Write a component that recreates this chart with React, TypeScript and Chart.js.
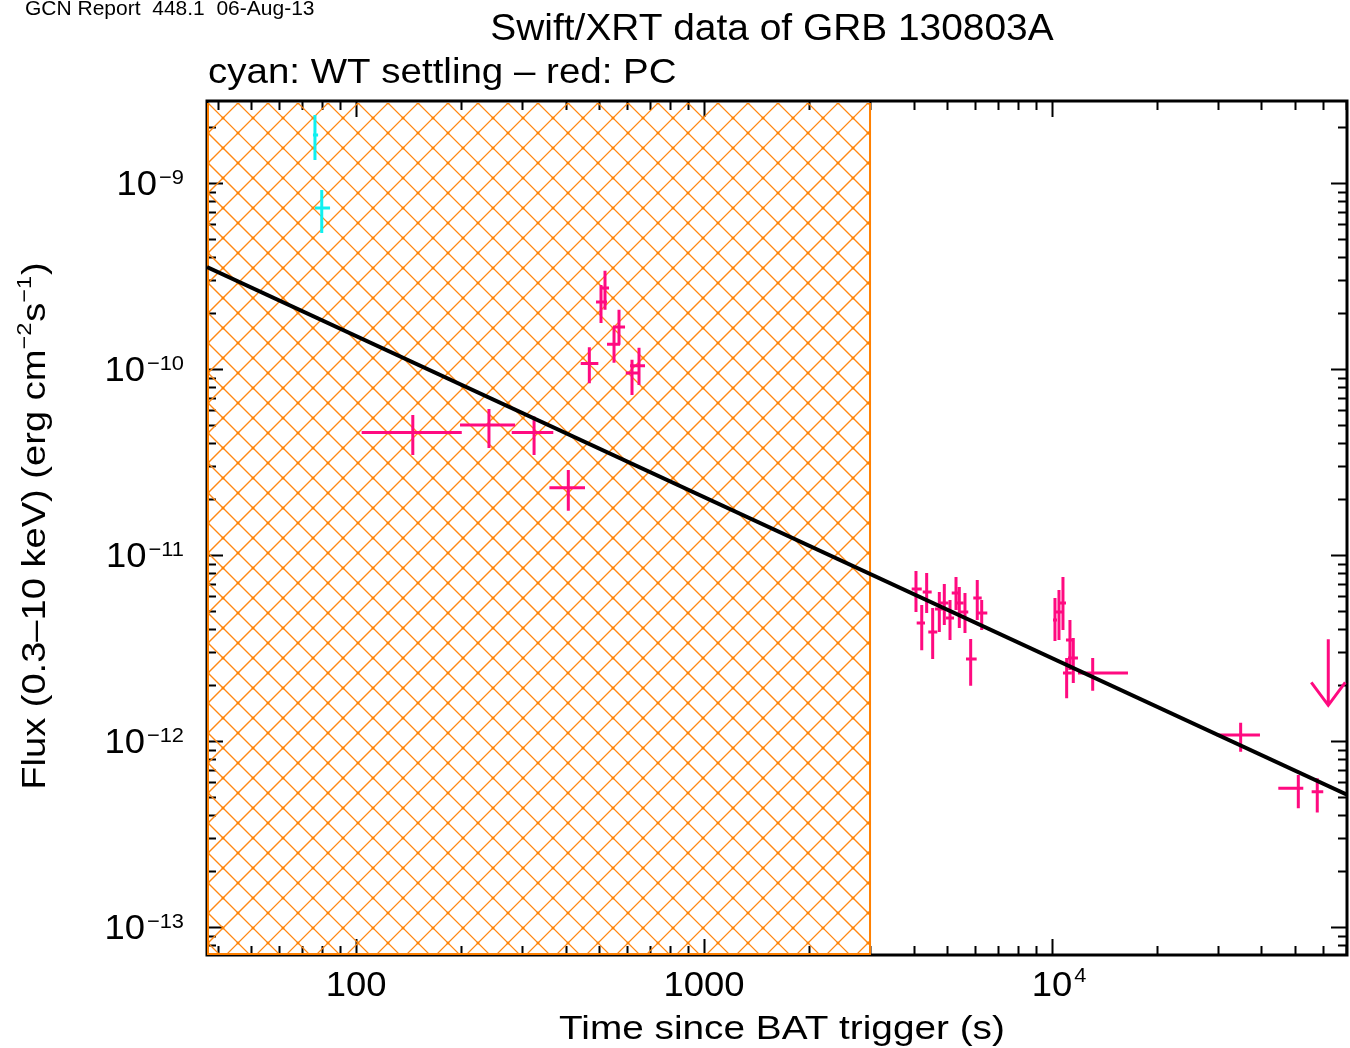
import React, { useEffect, useRef } from 'react';
import { Chart, registerables } from 'chart.js';

Chart.register(...registerables);

// ---------------- data ----------------
// WT settling mode (cyan)
const wtTime = [76.2, 79.7];
const wtTimeLo = [75.2, 76.2];
const wtTimeHi = [77.8, 84.2];
const wtFlux = [1.81e-9, 7.34e-10];
const wtFluxLo = [1.33e-9, 5.38e-10];
const wtFluxHi = [2.32e-9, 9.17e-10];

// PC mode (red)
const pcTime = [145.6, 241, 324.8, 407.4, 468.2, 505.8, 519.4, 551.3, 569.8, 621, 650.5,
  4066, 4224, 4364, 4541, 4745, 4904, 5093, 5299, 5416, 5623, 5839, 6099, 6281,
  10200, 10474, 10754, 11020, 11263, 11514, 13092,
  34850, 51040, 57860];
const pcTimeLo = [103.8, 199, 280.2, 359.5, 442.3, 489.4, 505.8, 526.4, 547.6, 596, 613,
  3952, 4085, 4251, 4411, 4612, 4768, 4960, 5151, 5299, 5466, 5661, 5941, 6140,
  10067, 10268, 10544, 10754, 10970, 11117, 11876,
  29730, 44710, 55750];
const pcTimeHi = [201.3, 286.5, 368.9, 455, 497, 526.4, 533.4, 573.6, 593, 645, 676.9,
  4224, 4316, 4511, 4682, 4872, 5035, 5230, 5441, 5561, 5747, 6075, 6281, 6518,
  10337, 10683, 10970, 11390, 11566, 11876, 16534,
  39600, 52750, 60200];
const pcFlux = [4.55e-11, 5.0e-11, 4.55e-11, 2.3e-11, 1.07e-10, 2.29e-10, 2.73e-10, 1.36e-10, 1.68e-10, 9.52e-11, 1.04e-10,
  6.57e-12, 4.31e-12, 6.33e-12, 3.85e-12, 5.12e-12, 5.52e-12, 4.59e-12, 6.25e-12, 5.52e-12, 4.94e-12, 2.76e-12, 5.87e-12, 4.88e-12,
  4.47e-12, 4.94e-12, 5.52e-12, 2.32e-12, 3.49e-12, 2.79e-12, 2.32e-12,
  1.077e-12, 5.57e-13, 5.34e-13];
const pcFluxLo = [3.45e-11, 3.76e-11, 3.45e-11, 1.73e-11, 8.38e-11, 1.77e-10, 2.08e-10, 1.08e-10, 1.35e-10, 7.25e-11, 8.2e-11,
  4.94e-12, 3.08e-12, 4.88e-12, 2.76e-12, 3.85e-12, 4.2e-12, 3.49e-12, 5.06e-12, 4.05e-12, 3.81e-12, 1.98e-12, 4.47e-12, 3.95e-12,
  3.45e-12, 3.49e-12, 3.95e-12, 1.7e-12, 2.41e-12, 2.05e-12, 1.86e-12,
  8.76e-13, 4.35e-13, 4.12e-13];
const pcFluxHi = [5.66e-11, 6.09e-11, 5.55e-11, 2.86e-11, 1.31e-10, 2.83e-10, 3.37e-10, 1.68e-10, 2.08e-10, 1.12e-10, 1.3e-10,
  8.2e-12, 5.38e-12, 8.0e-12, 5.19e-12, 6.33e-12, 6.99e-12, 5.73e-12, 7.62e-12, 6.73e-12, 6.25e-12, 3.54e-12, 7.34e-12, 5.73e-12,
  5.87e-12, 6.48e-12, 7.62e-12, 2.79e-12, 4.47e-12, 3.58e-12, 2.79e-12,
  1.254e-12, 6.57e-13, 6.3e-13];

// PC upper limit
const ulTime = [62230];
const ulFlux = [3.52e-12];

// power-law fit
const fitTime = [37.3, 70440];
const fitFlux = [3.53e-10, 5.15e-13];

// settling (hatched) interval
const shadeStart = 37.3;
const shadeEnd = 3000;

// axis ranges
const xMin = 37.3;
const xMax = 70440;
const yMin = 7.07e-14;
const yMax = 2.76e-9;

// tick labels
const xTickValues = [100, 1000, 10000];
const xTickBases = ['100', '1000', '10'];
const xTickExps = ['', '', '4'];
const yTickValues = [1e-9, 1e-10, 1e-11, 1e-12, 1e-13];
const yTickBases = ['10', '10', '10', '10', '10'];
const yTickExps = ['\u22129', '\u221210', '\u221211', '\u221212', '\u221213'];

// texts
const reportText = 'GCN Report  448.1  06-Aug-13';
const titleText = 'Swift/XRT data of GRB 130803A';
const subtitleText = 'cyan: WT settling \u2013 red: PC';
const xTitleText = 'Time since BAT trigger (s)';
const yTitleParts: [string, boolean][] = [
  ['Flux (0.3\u201310 keV) (erg cm', false],
  ['\u22122', true],
  ['s', false],
  ['\u22121', true],
  [')', false],
];

// ---------------- styles ----------------
const FONT = "'Liberation Sans', Arial, Helvetica, sans-serif";
const PINK = '#ff0a80';
const CYAN = '#10f0f0';
const ORANGE = 'rgb(255,136,20)';

const mkPoints = (t: number[], tl: number[], th: number[], f: number[], fl: number[], fh: number[]) =>
  t.map((x, i) => ({ x, y: f[i], xMin: tl[i], xMax: th[i], yMin: fl[i], yMax: fh[i] }));

function drawText(ctx: CanvasRenderingContext2D, text: string, x: number, y: number, size: number, align: string, sx: number) {
  ctx.save();
  ctx.font = `${size}px ${FONT}`;
  ctx.textAlign = 'left';
  const w = ctx.measureText(text).width * sx;
  const x0 = align === 'center' ? x - w / 2 : align === 'right' ? x - w : x;
  ctx.translate(x0, y);
  ctx.scale(sx, 1);
  ctx.fillText(text, 0, 0);
  ctx.restore();
  return w;
}

function textWidth(ctx: CanvasRenderingContext2D, text: string, size: number, sx: number) {
  ctx.font = `${size}px ${FONT}`;
  return ctx.measureText(text).width * sx;
}

const framePlugin = {
  id: 'frameHatchErrors',
  beforeDatasetsDraw(chart: any) {
    const { ctx, chartArea: ca, scales } = chart;
    const xs = scales.x, ys = scales.y;
    ctx.save();
    // frame
    ctx.strokeStyle = '#000';
    ctx.lineWidth = 3;
    ctx.strokeRect(ca.left, ca.top, ca.right - ca.left, ca.bottom - ca.top);
    // ticks
    ctx.lineWidth = 2;
    ctx.beginPath();
    for (let d = 1; d <= 5; d++) {
      for (let m = 1; m <= 9; m++) {
        const v = m * Math.pow(10, d);
        if (v < xMin || v > xMax) continue;
        const px = Math.round(xs.getPixelForValue(v)) + 0.5;
        const len = m === 1 ? 16 : 9;
        ctx.moveTo(px, ca.bottom); ctx.lineTo(px, ca.bottom - len);
        ctx.moveTo(px, ca.top); ctx.lineTo(px, ca.top + len);
      }
    }
    for (let d = -14; d <= -8; d++) {
      for (let m = 1; m <= 9; m++) {
        const v = m * Math.pow(10, d);
        if (v < yMin || v > yMax) continue;
        const py = Math.round(ys.getPixelForValue(v)) + 0.5;
        const len = m === 1 ? 16 : 9;
        ctx.moveTo(ca.left, py); ctx.lineTo(ca.left + len, py);
        ctx.moveTo(ca.right, py); ctx.lineTo(ca.right - len, py);
      }
    }
    ctx.stroke();

    // hatched region
    const hx0 = xs.getPixelForValue(shadeStart);
    const hx1 = xs.getPixelForValue(shadeEnd);
    const top = ca.top + 2, bot = ca.bottom;
    ctx.save();
    ctx.beginPath();
    ctx.rect(hx0, top, hx1 - hx0, bot - top);
    ctx.clip();
    ctx.strokeStyle = ORANGE;
    ctx.lineWidth = 1.25;
    ctx.beginPath();
    const sp = 30;
    for (let c = -60 + 11; c < 1400 + 1000; c += sp) {
      ctx.moveTo(c - top + 2, top - 2); ctx.lineTo(c - bot - 2, bot + 2);
    }
    for (let c = -1100 + 5; c < 1400; c += sp) {
      ctx.moveTo(c + top - 2, top - 2); ctx.lineTo(c + bot + 2, bot + 2);
    }
    ctx.stroke();
    ctx.fillStyle = 'rgb(255,128,0)';
    for (let c1 = 11; c1 < 2400; c1 += sp) {
      for (let c2 = -1095; c2 < 1400; c2 += sp) {
        const x = (c1 + c2) / 2, y = (c1 - c2) / 2;
        if (x < hx0 || x > hx1 || y < top || y > bot) continue;
        ctx.fillRect(x - 1.3, y - 1.3, 2.6, 2.6);
      }
    }
    ctx.restore();
    // region outline
    ctx.strokeStyle = 'rgb(255,128,0)';
    ctx.lineWidth = 2;
    ctx.beginPath();
    ctx.moveTo(hx0 + 1, top); ctx.lineTo(hx0 + 1, bot - 1);
    ctx.lineTo(hx1, bot - 1); ctx.lineTo(hx1, top);
    ctx.stroke();

    // error bars
    ctx.beginPath();
    ctx.rect(ca.left, ca.top, ca.right - ca.left, ca.bottom - ca.top);
    ctx.clip();
    chart.data.datasets.forEach((ds: any) => {
      if (ds.errorBars) {
        ctx.strokeStyle = ds.borderColor;
        ctx.lineWidth = 3;
        ctx.beginPath();
        ds.data.forEach((p: any) => {
          const px = xs.getPixelForValue(p.x), py = ys.getPixelForValue(p.y);
          ctx.moveTo(xs.getPixelForValue(p.xMin), py); ctx.lineTo(xs.getPixelForValue(p.xMax), py);
          ctx.moveTo(px, ys.getPixelForValue(p.yMax)); ctx.lineTo(px, ys.getPixelForValue(p.yMin));
        });
        ctx.stroke();
      }
      if (ds.upperLimit) {
        ctx.strokeStyle = ds.borderColor;
        ctx.lineWidth = 3;
        ds.data.forEach((p: any) => {
          const px = xs.getPixelForValue(p.x), py = ys.getPixelForValue(p.y);
          const tip = py + 66;
          ctx.beginPath();
          ctx.moveTo(px, py); ctx.lineTo(px, tip);
          ctx.moveTo(px - 17, tip - 23); ctx.lineTo(px, tip); ctx.lineTo(px + 17, tip - 23);
          ctx.stroke();
        });
      }
    });
    ctx.restore();
  },
  afterDraw(chart: any) {
    const { ctx, chartArea: ca, scales } = chart;
    const xs = scales.x, ys = scales.y;
    ctx.save();
    ctx.fillStyle = '#000';
    ctx.textBaseline = 'alphabetic';

    // header texts
    drawText(ctx, reportText, 25, 15, 21, 'left', 1.0);
    drawText(ctx, titleText, 772, 40, 36, 'center', 1.08);
    drawText(ctx, subtitleText, ca.left + 1, 83, 35, 'left', 1.1);

    // x tick labels
    xTickValues.forEach((v, i) => {
      const px = xs.getPixelForValue(v);
      const bw = textWidth(ctx, xTickBases[i], 35, 1.04);
      const x0 = px - bw / 2;
      drawText(ctx, xTickBases[i], x0, ca.bottom + 41, 35, 'left', 1.04);
      if (xTickExps[i]) {
        drawText(ctx, xTickExps[i], x0 + bw + 2, ca.bottom + 27, 21, 'left', 1.04);
      }
    });

    // y tick labels (right aligned at x = 183)
    yTickValues.forEach((v, i) => {
      const py = ys.getPixelForValue(v);
      const ew = drawText(ctx, yTickExps[i], 184, py + 1, 21, 'right', 1.04);
      drawText(ctx, yTickBases[i], 184 - ew - 2, py + 12, 35, 'right', 1.04);
    });

    // x title
    drawText(ctx, xTitleText, 782, 1039, 34, 'center', 1.14);

    // y title (rotated)
    ctx.translate(45, 526);
    ctx.rotate(-Math.PI / 2);
    const sx = 1.12;
    let total = 0;
    const widths = yTitleParts.map(([t, sup]) => {
      const w = textWidth(ctx, t, sup ? 21 : 34, sx) + (sup ? 1 : 0);
      total += w;
      return w;
    });
    let cx = -total / 2;
    yTitleParts.forEach(([t, sup], i) => {
      drawText(ctx, t, cx, sup ? -14 : 0, sup ? 21 : 34, 'left', sx);
      cx += widths[i];
    });
    ctx.restore();
  },
};

export default function App() {
  const ref = useRef<HTMLCanvasElement>(null);
  useEffect(() => {
    if (!ref.current) return;
    const chart = new Chart(ref.current, {
      type: 'scatter',
      data: {
        datasets: [
          {
            label: 'WT settling',
            data: mkPoints(wtTime, wtTimeLo, wtTimeHi, wtFlux, wtFluxLo, wtFluxHi),
            borderColor: CYAN,
            backgroundColor: CYAN,
            pointRadius: 0,
            errorBars: true,
          } as any,
          {
            label: 'PC',
            data: mkPoints(pcTime, pcTimeLo, pcTimeHi, pcFlux, pcFluxLo, pcFluxHi),
            borderColor: PINK,
            backgroundColor: PINK,
            pointRadius: 0,
            errorBars: true,
          } as any,
          {
            label: 'PC upper limit',
            data: ulTime.map((x, i) => ({ x, y: ulFlux[i] })),
            borderColor: PINK,
            backgroundColor: PINK,
            pointRadius: 0,
            upperLimit: true,
          } as any,
          {
            type: 'line',
            label: 'fit',
            data: fitTime.map((x, i) => ({ x, y: fitFlux[i] })),
            borderColor: '#000',
            borderWidth: 4,
            pointRadius: 0,
            fill: false,
            tension: 0,
          } as any,
        ],
      },
      options: {
        responsive: false,
        animation: false,
        events: [],
        layout: { padding: { left: 207, right: 3, top: 101, bottom: 93 } },
        plugins: {
          legend: { display: false },
          tooltip: { enabled: false },
          title: { display: false },
        },
        scales: {
          x: { type: 'logarithmic', min: xMin, max: xMax, display: false },
          y: { type: 'logarithmic', min: yMin, max: yMax, display: false },
        },
      },
      plugins: [framePlugin],
    });
    return () => chart.destroy();
  }, []);
  return (
    <div style={{ position: 'absolute', left: 0, top: 0, width: 1350, height: 1048, background: '#fff' }}>
      <canvas ref={ref} width={1350} height={1048} style={{ display: 'block', width: 1350, height: 1048 }} />
    </div>
  );
}
